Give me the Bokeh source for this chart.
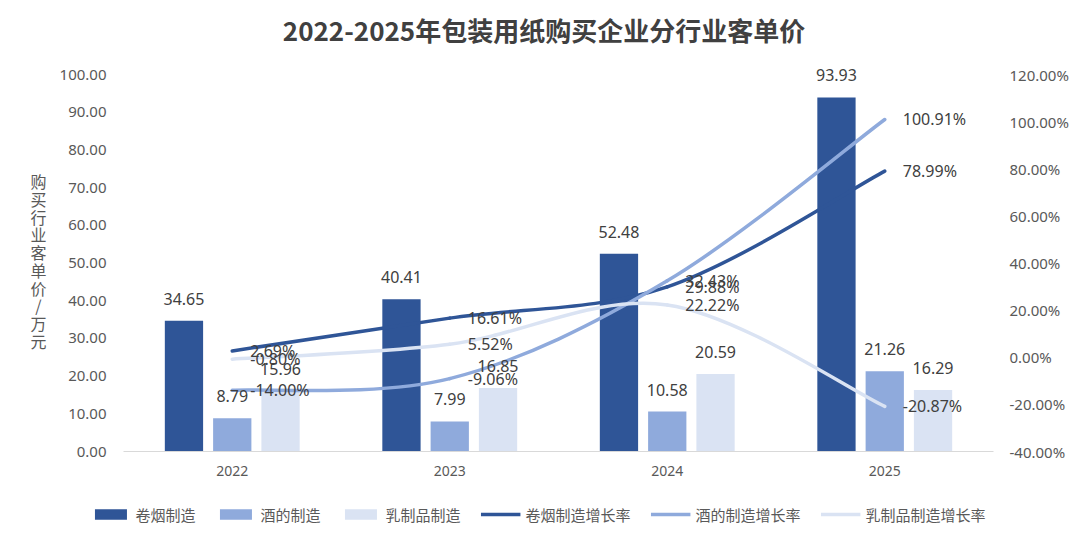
import numpy as np
from bokeh.plotting import figure
from bokeh.layouts import row, column
from bokeh.models import (Range1d, LinearAxis, FixedTicker, CustomJSTickFormatter,
                          Legend, LegendItem, LabelSet, Label, ColumnDataSource)
from bokeh.core.properties import value
from bokeh.embed import file_html
from bokeh.resources import INLINE

# ---------------- data ----------------
years = ["2022", "2023", "2024", "2025"]
cig = [34.65, 40.41, 52.48, 93.93]          # 卷烟制造 (万元)
wine = [8.79, 7.99, 10.58, 21.26]           # 酒的制造
dairy = [15.96, 16.85, 20.59, 16.29]        # 乳制品制造
cig_g = [2.69, 16.61, 29.88, 78.99]         # 卷烟制造增长率 (%)
wine_g = [-14.00, -9.06, 32.43, 100.91]     # 酒的制造增长率
dairy_g = [-0.80, 5.52, 22.22, -20.87]      # 乳制品制造增长率
left_ticks = [0, 10, 20, 30, 40, 50, 60, 70, 80, 90, 100]
right_ticks = [-40, -20, 0, 20, 40, 60, 80, 100, 120]
title_text = "2022-2025年包装用纸购买企业分行业客单价"
ylabel_text = "购买行业客单价/万元"
bar_names = ["卷烟制造", "酒的制造", "乳制品制造"]
line_names = ["卷烟制造增长率", "酒的制造增长率", "乳制品制造增长率"]

C1, C2, C3 = "#2F5597", "#8FAADC", "#DAE3F3"
TXT = "#404040"
AX = "#595959"
NUMFONT = "Noto Sans"
CJK = "Noto Sans CJK SC"

# ---------------- layout constants ----------------
TOTAL_W, MAIN_H, LEG_H = 1076, 490, 47
YLAB_W = 56
BORDER_L, BORDER_R, BORDER_B = 60, 83, 39
FRAME_H = MAIN_H - BORDER_B                 # frame top = figure top
PX_PER_L = 377 / 100.0                      # left axis: 100 units over 377 px
PX_PER_R = 377 / 160.0                      # right axis: 160 units over 377 px
L_MAX = FRAME_H / PX_PER_L                  # extend range so frame can hold labels/title
R_MIN = -40
R_MAX = R_MIN + FRAME_H / PX_PER_R

xs = np.arange(1, len(years) + 1, dtype=float)
BW = 0.176
OFF = 0.222

p = figure(width=TOTAL_W - YLAB_W, height=MAIN_H, x_range=Range1d(0.5, 4.5),
           y_range=Range1d(0, L_MAX), output_backend="svg", toolbar_location=None,
           min_border_left=BORDER_L, min_border_right=BORDER_R, min_border_top=0,
           min_border_bottom=BORDER_B, background_fill_color="white",
           border_fill_color="white")
p.extra_y_ranges = {"pct": Range1d(R_MIN, R_MAX)}
p.outline_line_color = None
p.xgrid.visible = False
p.ygrid.visible = False

# axes
xa = p.xaxis[0]
xa.ticker = FixedTicker(ticks=list(xs))
xa.major_label_overrides = {int(x): y for x, y in zip(xs, years)}
xa.axis_line_color = "#D9D9D9"
xa.major_tick_line_color = None
xa.minor_tick_line_color = None
xa.major_label_text_font = NUMFONT
xa.major_label_text_font_size = "14px"
xa.major_label_text_color = AX
xa.major_label_standoff = 8

ya = p.yaxis[0]
ya.ticker = FixedTicker(ticks=left_ticks)
ya.formatter = CustomJSTickFormatter(code="return tick.toFixed(2);")
ya.axis_line_color = None
ya.major_tick_line_color = None
ya.minor_tick_line_color = None
ya.major_label_text_font = NUMFONT
ya.major_label_text_font_size = "15px"
ya.major_label_text_color = AX
ya.major_label_standoff = 11

ra = LinearAxis(y_range_name="pct", ticker=FixedTicker(ticks=right_ticks),
                formatter=CustomJSTickFormatter(code="return tick.toFixed(2) + '%';"))
ra.axis_line_color = None
ra.major_tick_line_color = None
ra.minor_tick_line_color = None
ra.major_label_text_font = NUMFONT
ra.major_label_text_font_size = "15px"
ra.major_label_text_color = AX
ra.major_label_standoff = 10
p.add_layout(ra, "right")

# bars
p.vbar(x=xs - OFF, top=cig, width=BW, fill_color=C1, line_color=None)
p.vbar(x=xs, top=wine, width=BW, fill_color=C2, line_color=None)
p.vbar(x=xs + OFF, top=dairy, width=BW, fill_color=C3, line_color=None)


def smooth_segments(xv, yv):
    xv = list(xv); yv = list(yv)
    n = len(xv)
    d = dict(x0=[], y0=[], x1=[], y1=[], cx0=[], cy0=[], cx1=[], cy1=[])
    for i in range(n - 1):
        a = max(i - 1, 0); b = min(i + 2, n - 1)
        d["x0"].append(xv[i]); d["y0"].append(yv[i])
        d["x1"].append(xv[i + 1]); d["y1"].append(yv[i + 1])
        d["cx0"].append(xv[i] + (xv[i + 1] - xv[a]) / 6)
        d["cy0"].append(yv[i] + (yv[i + 1] - yv[a]) / 6)
        d["cx1"].append(xv[i + 1] - (xv[b] - xv[i]) / 6)
        d["cy1"].append(yv[i + 1] - (yv[b] - yv[i]) / 6)
    return ColumnDataSource(d)


for series, col in ((cig_g, C1), (wine_g, C2), (dairy_g, C3)):
    p.bezier(x0="x0", y0="y0", x1="x1", y1="y1", cx0="cx0", cy0="cy0", cx1="cx1", cy1="cy1",
             source=smooth_segments(xs, series), line_color=col, line_width=3.5,
             line_cap="round", y_range_name="pct")

# bar value labels
for vals, off in ((cig, -OFF), (wine, 0.0), (dairy, OFF)):
    src = ColumnDataSource(dict(x=xs + off, y=vals, t=["%.2f" % v for v in vals]))
    p.add_layout(LabelSet(x="x", y="y", text="t", source=src, text_align="center",
                          text_baseline="middle", y_offset=22, text_font=value(NUMFONT),
                          text_font_size="16px", text_color=TXT))

# growth labels
for vals in (cig_g, wine_g, dairy_g):
    src = ColumnDataSource(dict(x=xs, y=vals, t=["%.2f%%" % v for v in vals]))
    p.add_layout(LabelSet(x="x", y="y", text="t", source=src, y_range_name="pct",
                          text_align="left", text_baseline="middle", x_offset=18,
                          text_font=value(NUMFONT), text_font_size="16px", text_color=TXT))

# chart title (inside the extended frame)
p.add_layout(Label(x=2.5, y=L_MAX, x_offset=-14.5, y_offset=-29, text=title_text,
                   text_align="center", text_baseline="middle", text_font=CJK,
                   text_font_size="26px", text_font_style="bold", text_color=TXT))

# ---------------- y-axis title (stacked characters) ----------------
ylab = figure(width=YLAB_W, height=MAIN_H, x_range=Range1d(0, YLAB_W),
              y_range=Range1d(0, MAIN_H), output_backend="svg", toolbar_location=None,
              min_border=0, x_axis_location=None, y_axis_location=None,
              background_fill_color="white", border_fill_color="white")
ylab.outline_line_color = None
ylab.grid.visible = False
ylab.add_layout(Label(x=38, y=MAIN_H - 283, text="\n".join(ylabel_text),
                      text_align="center", text_baseline="middle", text_font=CJK,
                      text_font_size="16px", text_color=AX, text_line_height=0.74))

# ---------------- legend ----------------
leg = figure(width=TOTAL_W, height=LEG_H, x_range=Range1d(0, 1), y_range=Range1d(0, 1),
             output_backend="svg", toolbar_location=None, min_border=0,
             x_axis_location=None, y_axis_location=None,
             background_fill_color="white", border_fill_color="white")
leg.outline_line_color = None
leg.grid.visible = False
items = []
for name, vals, col in zip(bar_names, (cig, wine, dairy), (C1, C2, C3)):
    rr = leg.vbar(x=xs, top=vals, width=BW, fill_color=col, line_color=None, visible=False)
    items.append(LegendItem(label=name, renderers=[rr]))
for name, vals, col in zip(line_names, (cig_g, wine_g, dairy_g), (C1, C2, C3)):
    rr = leg.line(x=xs, y=vals, line_color=col, line_width=3.5, visible=False)
    items.append(LegendItem(label=name, renderers=[rr]))
legend = Legend(items=items, orientation="horizontal", location="center")
legend.border_line_color = None
legend.background_fill_alpha = 0
legend.inactive_fill_alpha = 0
legend.label_text_font = CJK
legend.label_text_font_size = "15px"
legend.label_text_color = AX
legend.glyph_width = 40
legend.glyph_height = 13
legend.label_standoff = 5
legend.spacing = 20
legend.padding = 2
legend.margin = 0
leg.add_layout(legend)

layout = column(row(ylab, p), leg)
open("out.html", "w").write(file_html(layout, INLINE))
